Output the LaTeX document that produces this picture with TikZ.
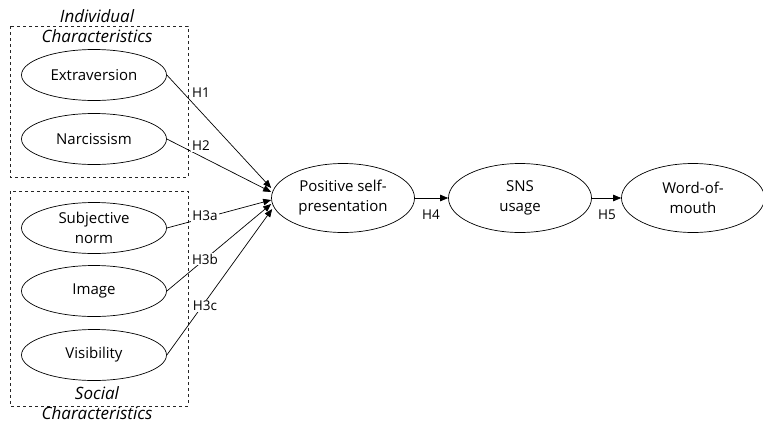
\documentclass[tikz,border=0pt]{standalone}
\usepackage{fontspec}
\setmainfont{Open Sans}
\usetikzlibrary{arrows.meta,calc,shapes.geometric}
\begin{document}
\begin{tikzpicture}[x=1pt,y=-1pt,
  oval/.style={draw,ellipse,minimum width=145pt,minimum height=51pt,inner sep=0pt,align=center,font=\fontsize{15}{20}\selectfont,line width=0.7pt},
  bigoval/.style={oval,minimum width=143pt,minimum height=69pt},
  grp/.style={draw,dashed,line width=0.6pt,gray!30!black},
  ttl/.style={font=\fontsize{17}{19.5}\selectfont\itshape,align=center,inner sep=0pt},
  lab/.style={font=\fontsize{13.5}{15}\selectfont,inner sep=1pt},
  arr/.style={-{Triangle[length=8pt,width=6.5pt]},line width=0.7pt}]
\useasboundingbox (0,0) rectangle (763,424);
% group boxes
\draw[grp] (10,26) rectangle (188,177);
\draw[grp] (10,191) rectangle (188,406);
\node[ttl] (t1) at (97,26) {Individual\\Characteristics};
\node[ttl] (t2) at (97,403) {Social\\Characteristics};
% nodes
\node[oval] (ext) at (94,75) {Extraversion};
\node[oval] (nar) at (94,139) {Narcissism};
\node[oval] (sub) at (94,228) {Subjective\\norm};
\node[oval] (img) at (94,291) {Image};
\node[oval] (vis) at (94,355) {Visibility};
\node[bigoval] (psp) at (343,198) {Positive self-\\presentation};
\node[bigoval] (sns) at (520,198) {SNS\\usage};
\node[bigoval] (wom) at (693,198) {Word-of-\\mouth};
% target points
\coordinate (a1) at ($(psp.west)+(0,-10)$);
\coordinate (a2) at ($(psp.west)+(0,-6)$);
\coordinate (a3) at ($(psp.west)+(0,2)$);
\coordinate (a4) at ($(psp.west)+(0,6)$);
\coordinate (a5) at ($(psp.west)+(1,11)$);
% connectors
\draw[arr] (ext.east) -- (a1);
\draw[arr] (nar.east) -- (a2);
\draw[arr] (sub.east) -- (a3);
\draw[arr] (img.east) -- (a4);
\draw[arr] (vis.east) -- (a5);
\draw[arr] (psp.east) -- (sns.west);
\draw[arr] (sns.east) -- (wom.west);
% labels
\node[lab,fill=white] (h1) at (201,93) {H1};
\node[lab,fill=white] (h2) at (201,146) {H2};
\node[lab,fill=white] (h3a) at (205,216) {H3a};
\node[lab,fill=white] (h3b) at (205,259) {H3b};
\node[lab,fill=white] (h3c) at (205,306) {H3c};
\node[lab] (h4) at (431,215) {H4};
\node[lab] (h5) at (607,215) {H5};
\end{tikzpicture}
\end{document}
